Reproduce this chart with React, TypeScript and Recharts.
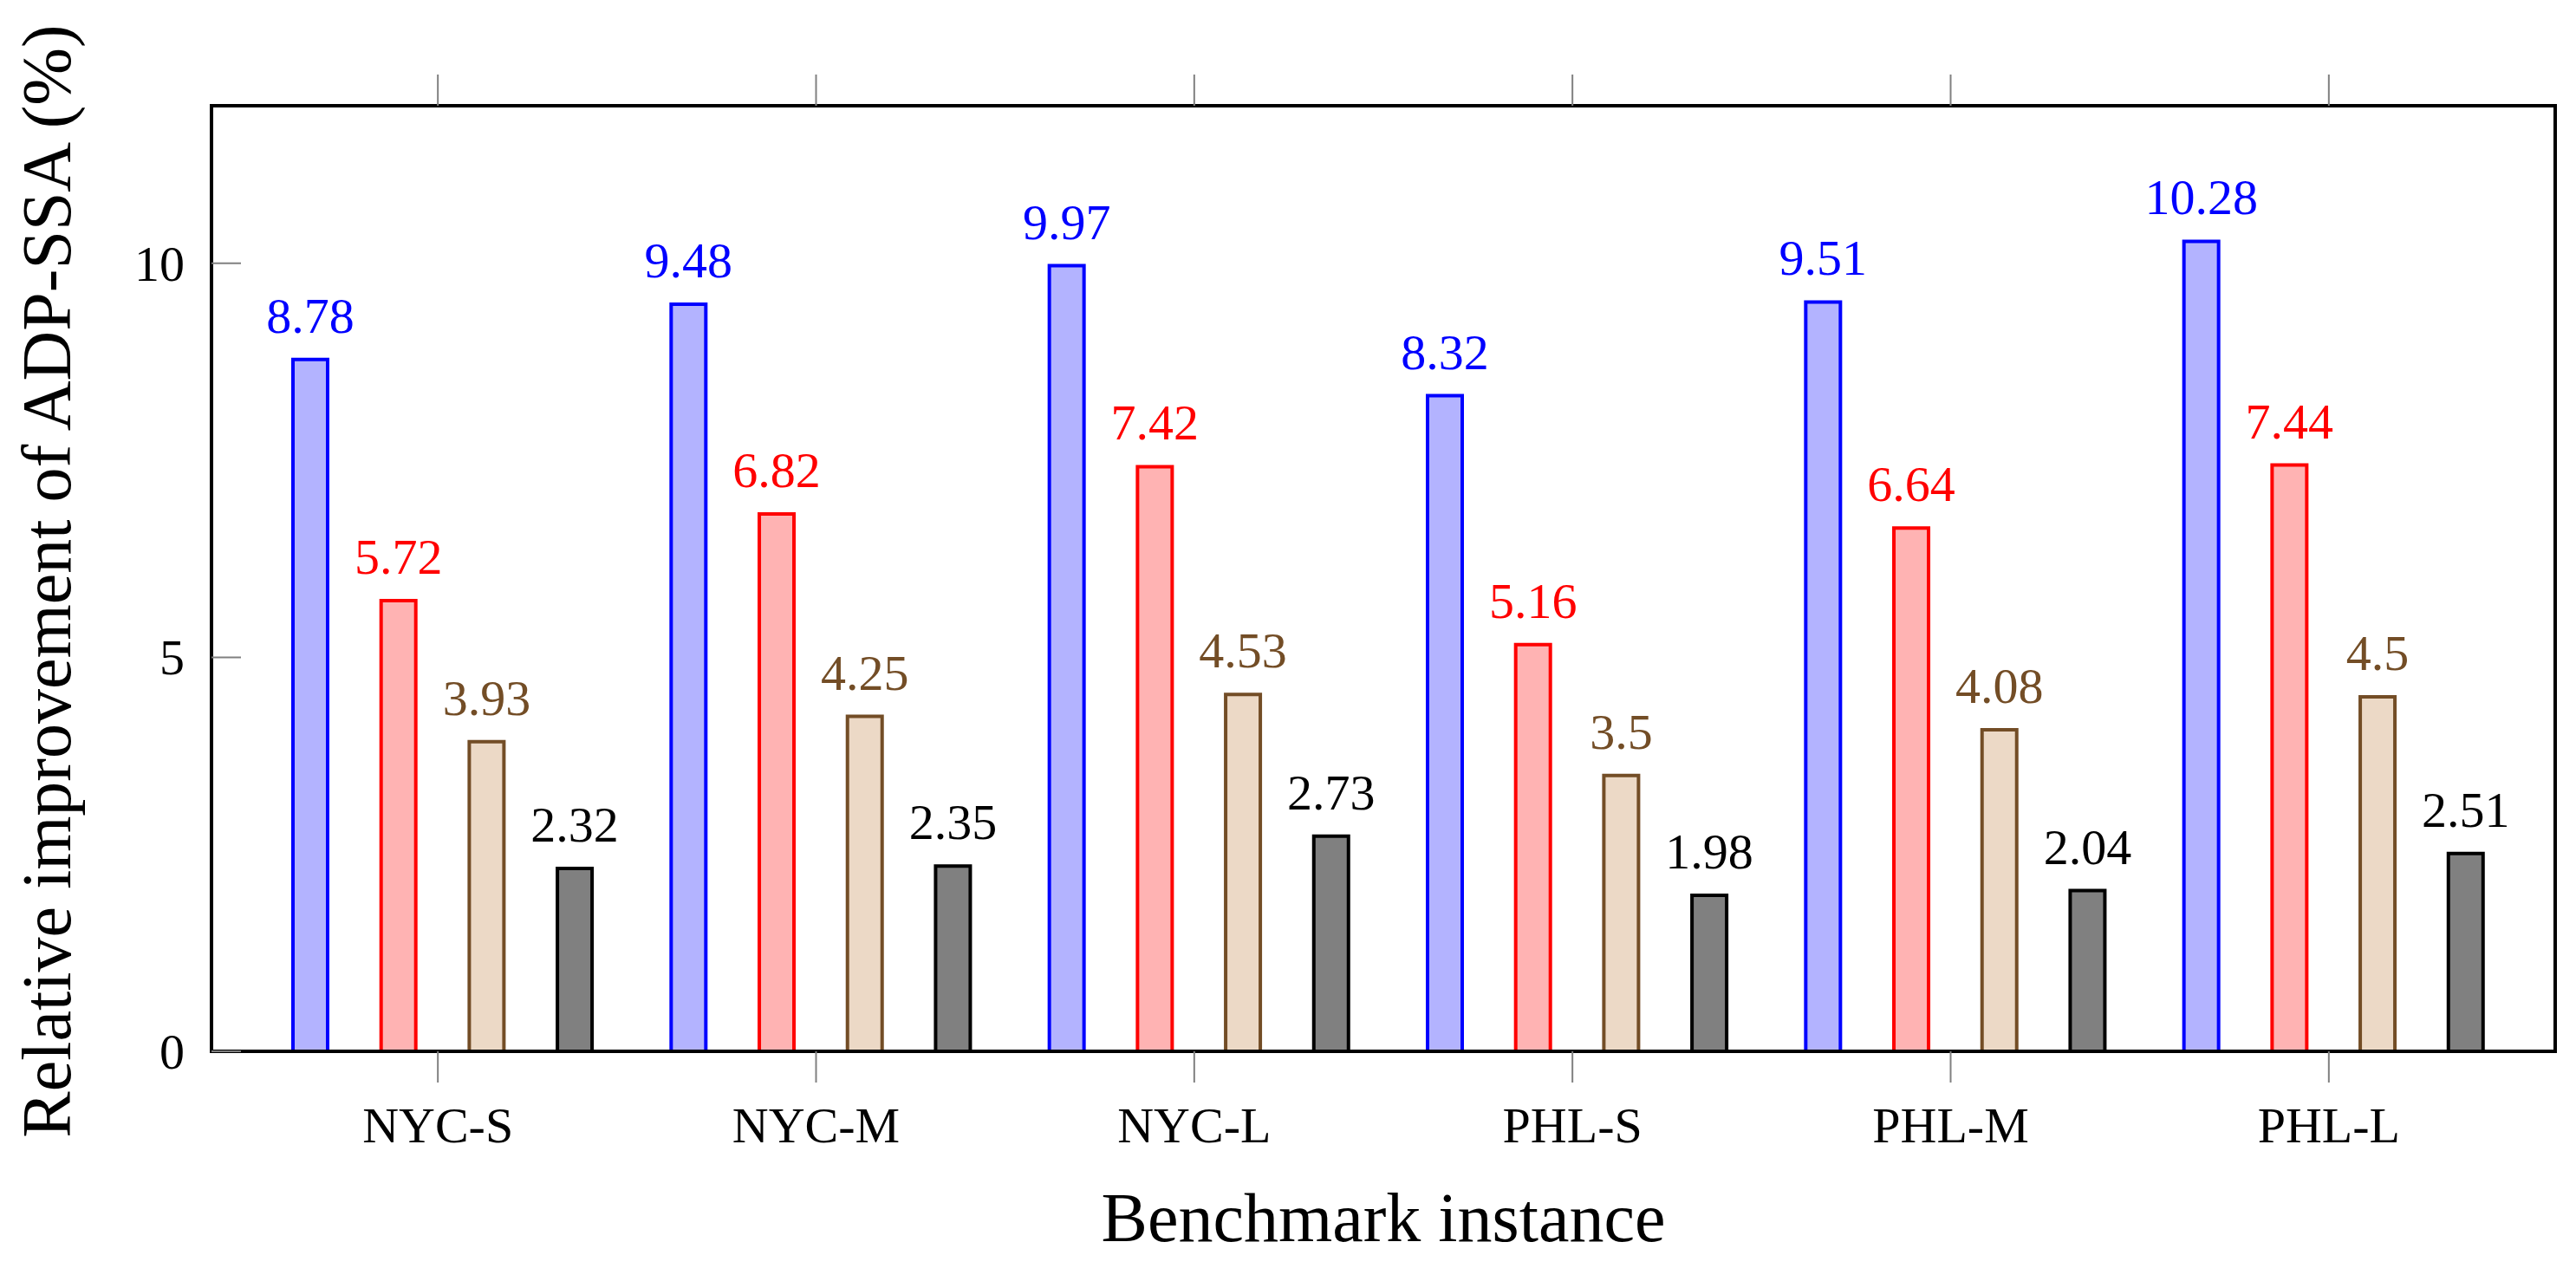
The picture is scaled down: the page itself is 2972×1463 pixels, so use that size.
import React from 'react';
import { BarChart, Bar, XAxis, YAxis, LabelList } from 'recharts';

const categories = ['NYC-S', 'NYC-M', 'NYC-L', 'PHL-S', 'PHL-M', 'PHL-L'];
const seriesA = [8.78, 9.48, 9.97, 8.32, 9.51, 10.28];
const seriesB = [5.72, 6.82, 7.42, 5.16, 6.64, 7.44];
const seriesC = [3.93, 4.25, 4.53, 3.5, 4.08, 4.5];
const seriesD = [2.32, 2.35, 2.73, 1.98, 2.04, 2.51];
const yTicks = [0, 5, 10];
const yDomain = [0, 12];

const data = categories.map((name, i) => ({
  name,
  a: seriesA[i],
  b: seriesB[i],
  c: seriesC[i],
  d: seriesD[i],
}));

const FONT = '"Liberation Serif", "Times New Roman", serif';
const W = 2972;
const H = 1463;
const TICK_LEN = 34;
const X_TICK_LEN = 36;
const TICK_COLOR = '#808080';
const Y_TICK_MARGIN = 31;

const LeftTick = (props: any) => {
  const { x, y, payload } = props;
  const ax = x + Y_TICK_MARGIN;
  return (
    <g>
      <line x1={ax} x2={ax + TICK_LEN} y1={y} y2={y} stroke={TICK_COLOR} strokeWidth={2} />
      <text x={x} y={y} dy="0.34em" textAnchor="end" fontFamily={FONT} fontSize={58} fill="#000">
        {payload.value}
      </text>
    </g>
  );
};

const RightTick = (props: any) => {
  const { x, y } = props;
  return <line x1={x - TICK_LEN} x2={x} y1={y} y2={y} stroke={TICK_COLOR} strokeWidth={2} />;
};

const TopTick = (props: any) => {
  const { x, y } = props;
  return <line x1={x} x2={x} y1={y - X_TICK_LEN} y2={y} stroke={TICK_COLOR} strokeWidth={2} />;
};

const BottomTick = (props: any) => {
  const { x, y, payload } = props;
  return (
    <text x={x} y={y} dy="0.69em" textAnchor="middle" fontFamily={FONT} fontSize={58} fill="#000">
      {payload.value}
    </text>
  );
};

const makeLabel = (color: string) => (p: any) => {
  const vb = p.viewBox || {};
  const x = vb.x ?? p.x;
  const y = vb.y ?? p.y;
  const w = vb.width ?? p.width;
  return (
    <text x={x + w / 2} y={y - 31} textAnchor="middle" fontFamily={FONT} fontSize={58} fill={color}>
      {String(p.value)}
    </text>
  );
};

const XTitle = (p: any) => {
  const vb = p.viewBox;
  return (
    <text x={vb.x + vb.width / 2} y={vb.y + 219} textAnchor="middle" fontFamily={FONT} fontSize={80} fill="#000">
      Benchmark instance
    </text>
  );
};

const YTitle = (p: any) => {
  const vb = p.viewBox;
  const cx = vb.x + 81;
  const cy = vb.y + vb.height / 2 + 3;
  return (
    <text x={cx} y={cy} transform={`rotate(-90 ${cx} ${cy})`} textAnchor="middle" fontFamily={FONT} fontSize={80} fill="#000">
      Relative improvement of ADP-SSA (%)
    </text>
  );
};

const frameLine = { stroke: '#000', strokeWidth: 4, strokeLinecap: 'square' as const };

const series = [
  { key: 'a', fill: '#b3b3ff', stroke: '#0000ff', label: '#0000ff' },
  { key: 'b', fill: '#ffb3b3', stroke: '#ff0000', label: '#ff0000' },
  { key: 'c', fill: '#ecd9c6', stroke: '#734d26', label: '#734d26' },
  { key: 'd', fill: '#808080', stroke: '#000000', label: '#000000' },
];

export default function App() {
  return (
    <div style={{ position: 'absolute', left: 0, top: 0, width: W, height: H, background: '#fff' }}>
      <BarChart
        width={W}
        height={H}
        data={data}
        margin={{ top: 121, right: 0, bottom: 0, left: 0 }}
        barSize={40}
        barGap={61.7}
      >
        <XAxis xAxisId="bars" dataKey="name" hide height={0} orientation="top" padding={{ left: 48, right: 38 }} />
        <XAxis
          xAxisId="bottom"
          dataKey="name"
          orientation="bottom"
          height={250}
          padding={{ left: 43, right: 43 }}
          axisLine={frameLine}
          tickLine={{ stroke: TICK_COLOR, strokeWidth: 2 }}
          tickSize={X_TICK_LEN}
          tickMargin={29}
          tick={<BottomTick />}
          interval={0}
          label={{ content: XTitle }}
        />
        <XAxis
          xAxisId="top"
          dataKey="name"
          orientation="top"
          height={1}
          padding={{ left: 43, right: 43 }}
          axisLine={frameLine}
          tickLine={false}
          tickSize={0}
          tickMargin={0}
          tick={<TopTick />}
          interval={0}
        />
        <YAxis
          yAxisId="left"
          orientation="left"
          width={244}
          domain={yDomain}
          ticks={yTicks}
          interval={0}
          axisLine={frameLine}
          tickLine={false}
          tickSize={0}
          tickMargin={Y_TICK_MARGIN}
          tick={<LeftTick />}
          label={{ content: YTitle }}
        />
        <YAxis
          yAxisId="right"
          orientation="right"
          width={24}
          domain={yDomain}
          ticks={yTicks}
          interval={0}
          axisLine={frameLine}
          tickLine={false}
          tickSize={0}
          tickMargin={0}
          tick={<RightTick />}
        />
        {series.map((s) => (
          <Bar
            key={s.key}
            dataKey={s.key}
            xAxisId="bars"
            yAxisId="left"
            fill={s.fill}
            stroke={s.stroke}
            strokeWidth={4}
            isAnimationActive={false}
          >
            <LabelList dataKey={s.key} content={makeLabel(s.label)} />
          </Bar>
        ))}
      </BarChart>
    </div>
  );
}
